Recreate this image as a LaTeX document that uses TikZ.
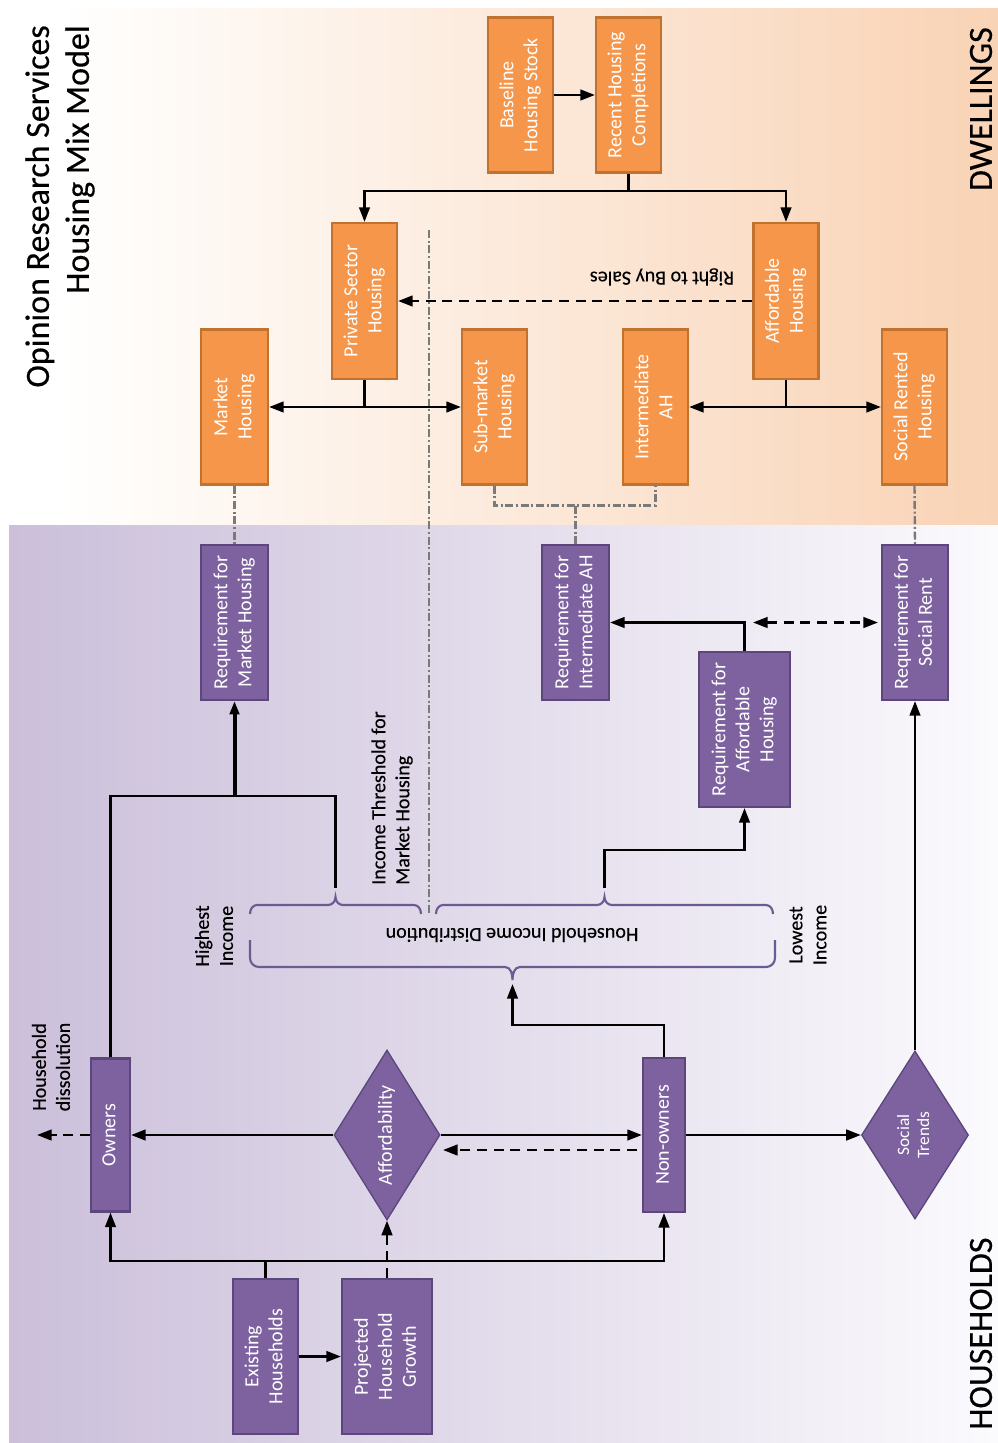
\documentclass[tikz,border=0pt]{standalone}
\usepackage{fontspec}
\usepackage{graphicx}
\setmainfont{Carlito}
\newfontfamily\lblfont[FakeBold=0.35]{Carlito}
\usetikzlibrary{arrows.meta,shapes.geometric}
\definecolor{orfill}{HTML}{F5964A}
\definecolor{ordraw}{HTML}{C2722F}
\definecolor{pufill}{HTML}{7E62A0}
\definecolor{pudraw}{HTML}{5B477B}
\definecolor{peach}{HTML}{F9D3B5}
\definecolor{lav}{HTML}{CBBFDA}
\definecolor{lavr}{HTML}{FBFAFD}
\definecolor{brc}{HTML}{6C5A93}
\definecolor{ddgray}{HTML}{7A7A7A}
\newlength\upx \setlength\upx{0.75pt}
\newcommand\rtx[1]{\rotatebox{90}{\begin{tabular}{@{}c@{}}#1\end{tabular}}}
\begin{document}
\begin{tikzpicture}[x=0.75pt,y=-0.75pt,
  obox/.style={draw=ordraw, fill=orfill, line width=1.6pt, text=white, inner sep=0pt,
    minimum width=65\upx, minimum height=155\upx, font=\fontsize{15}{18}\selectfont},
  pbox/.style={draw=pudraw, fill=pufill, line width=1.6pt, text=white, inner sep=0pt,
    minimum width=67\upx, minimum height=155\upx, font=\fontsize{15}{18}\selectfont},
  pdia/.style={diamond, draw=pudraw, fill=pufill, line width=1pt, inner sep=0pt},
  ptxt/.style={text=white, inner sep=0pt, font=\fontsize{15}{18}\selectfont},
  conn/.style={line width=1.8pt},
  arr/.style={conn, -{Triangle[length=11pt,width=8pt]}},
  darr/.style={arr, dash pattern=on 7.5pt off 5pt},
  ddot/.style={draw=ddgray, line width=1.8pt, dash pattern=on 6pt off 2pt on 1.5pt off 2pt},
  brace/.style={draw=brc, line width=1.6pt},
  lbl/.style={font=\lblfont\fontsize{15}{18}\selectfont, inner sep=0pt, align=center},
  big/.style={font=\lblfont\fontsize{25.5}{30}\selectfont, inner sep=0pt},
]
\useasboundingbox (0,0) rectangle (998,1443);
\fill[white] (0,0) rectangle (998,1443);
\fill[left color=white, right color=peach] (57,8) rectangle (998,525);
\fill[left color=lav, right color=lavr] (9,525) rectangle (998,1442);

% titles
\node[big, rotate=90, anchor=east, align=right] (title) at (60,25) {Opinion Research Services\\Housing Mix Model};
\node[big, rotate=90, anchor=east] (dwl) at (981,27) {DWELLINGS};
\node[big, rotate=90, anchor=west] (hhl) at (981,1430) {HOUSEHOLDS};

% gray threshold line
\coordinate (gt) at (429,230);
\coordinate (gb) at (429,913);
\draw[ddot] (gt) -- (gb);

% dwellings boxes
\node[obox] (base) at (520.5,95) {\rtx{Baseline\\Housing Stock}};
\node[obox] (recent) at (628.5,95) {\rtx{Recent Housing\\Completions}};
\node[obox, minimum height=156\upx] (priv) at (364.5,301) {\rtx{Private Sector\\Housing}};
\node[obox, minimum height=156\upx] (aff) at (786,301) {\rtx{Affordable\\Housing}};
\node[obox, minimum width=67\upx] (mkt) at (234.5,407) {\rtx{Market\\Housing}};
\node[obox] (sub) at (494.5,407) {\rtx{Sub-market\\Housing}};
\node[obox] (inter) at (655.5,407) {\rtx{Intermediate\\AH}};
\node[obox] (soc) at (914.5,407) {\rtx{Social Rented\\Housing}};

% requirement boxes
\node[pbox] (rmkt) at (234.5,622.5) {\rtx{Requirement for\\Market Housing}};
\node[pbox] (rint) at (575.5,622.5) {\rtx{Requirement for\\Intermediate AH}};
\node[pbox, minimum width=91\upx] (raff) at (744.5,729.5) {\rtx{Requirement for\\Affordable\\Housing}};
\node[pbox, minimum width=66\upx] (rsoc) at (915,622.5) {\rtx{Requirement for\\Social Rent}};

% households boxes
\node[pbox, minimum width=39\upx, minimum height=153\upx] (own) at (110.5,1135) {\rtx{Owners}};
\node[pbox, minimum width=42\upx, minimum height=154\upx] (non) at (664,1135) {\rtx{Non-owners}};
\node[pbox, minimum width=65\upx] (exist) at (265.5,1356.5) {\rtx{Existing\\Households}};
\node[pbox, minimum width=90\upx] (proj) at (387,1356.5) {\rtx{Projected\\Household\\Growth}};
\node[pdia, minimum width=106\upx, minimum height=170\upx] (afd) at (387,1135) {};
\node[ptxt] (afdtxt) at (afd.center) {\rtx{Affordability}};
\node[pdia, minimum width=107\upx, minimum height=168\upx] (st) at (915,1135) {};
\node[ptxt, font=\fontsize{13}{15}\selectfont] (sttxt) at (st.center) {\rtx{Social\\Trends}};

% dwellings connectors
\draw[arr] (base) -- (recent);
\coordinate (jr) at (628.5,191);
\draw[conn, line width=2.2pt] (recent.south) -- (jr);
\draw[arr] (jr) -| (priv.north);
\draw[arr] (jr) -| (aff.north);
\coordinate (jp) at (364.5,407);
\draw[conn, line width=2.2pt] (priv.south) -- (jp);
\draw[arr] (jp) -- (mkt.east);
\draw[arr] (jp) -- (sub.west);
\coordinate (ja) at (786,407);
\draw[conn, line width=2.2pt] (aff.south) -- (ja);
\draw[arr] (ja) -- (inter.east);
\draw[arr] (ja) -- (soc.west);
\draw[darr] (aff.west) -- (priv.east);
\node[lbl, rotate=180] (rtb) at (662,277) {Right to Buy Sales};

% dash-dot links dwellings -> requirements
\draw[ddot] (mkt.south) -- (rmkt.north);
\coordinate (js) at (575.5,505.5);
\draw[ddot] (sub.south) |- (js) -| (inter.south);
\draw[ddot] (js) -- (rint.north);
\draw[ddot] (soc.south) -- (rsoc.north);

% requirement connectors
\draw[arr] (raff.north) |- (rint.east);
\coordinate (dl) at (753,622.5);
\coordinate (dr) at (878,622.5);
\draw[conn, dash pattern=on 7.5pt off 5pt, {Triangle[length=11pt,width=8pt]}-{Triangle[length=11pt,width=8pt]}] (dl) -- (dr);

% braces
\draw[brace] (250,914) to[out=90,in=180] (257,905) -- (328,905) to[out=0,in=-90] (335.5,897)
  to[out=-90,in=180] (343,905) -- (414,905) to[out=0,in=90] (421,914);
\draw[brace] (436,914) to[out=90,in=180] (443,905) -- (597,905) to[out=0,in=-90] (604.5,897)
  to[out=-90,in=180] (612,905) -- (766,905) to[out=0,in=90] (773,914);
\draw[brace] (250,940) -- (250,958) to[out=-90,in=180] (259,967) -- (505,967) to[out=0,in=90] (512.5,980)
  to[out=90,in=180] (520,967) -- (766,967) to[out=0,in=-90] (775,958) -- (775,940);
\node[lbl, rotate=180] (hid) at (512,935) {Household Income Distribution};
\node[lbl, rotate=90] (hi) at (214,936) {Highest\\Income};
\node[lbl, rotate=90] (lo) at (808,935) {Lowest\\Income};
\node[lbl, rotate=90, anchor=west, align=left] (ith) at (392,885) {Income Threshold for\\Market Housing};

% brace connectors
\coordinate (tl1) at (335.5,888);
\coordinate (tl2) at (335.5,796);
\coordinate (jm) at (234.5,796);
\draw[conn] (own.north) |- (tl2) -- (tl1);
\draw[conn, line width=3pt, -{Triangle[length=10pt,width=7pt]}] (jm) -- (rmkt.south);
\coordinate (tr1) at (604.5,888);
\coordinate (k1) at (604.5,850);
\draw[arr] (tr1) -- (k1) -| (raff.south);
\coordinate (nb) at (512.5,1025);
\coordinate (bt) at (512.5,984);
\draw[arr] (non.north) |- (nb) -- (bt);

% households connectors
\coordinate (je) at (265.5,1261);
\draw[conn, line width=2.4pt] (exist.north) -- (je);
\draw[arr] (je) -| (own.south);
\draw[arr] (je) -| (non.south);
\draw[arr] (exist) -- (proj);
\draw[darr] (proj.north) -- (afd.south);
\draw[arr] (afd.west) -- (own.east);
\draw[arr] (afd.east) -- (non.west);
\coordinate (nd) at (637,1150);
\coordinate (ad) at (443,1150);
\draw[darr] (nd) -- (ad);
\coordinate (hd) at (37,1135);
\draw[darr] (own.west) -- (hd);
\node[lbl, rotate=90] (hdis) at (51,1067) {Household\\dissolution};
\draw[arr] (non.east) -- (st.west);
\draw[arr] (st.north) -- (rsoc.south);
\end{tikzpicture}
\end{document}
